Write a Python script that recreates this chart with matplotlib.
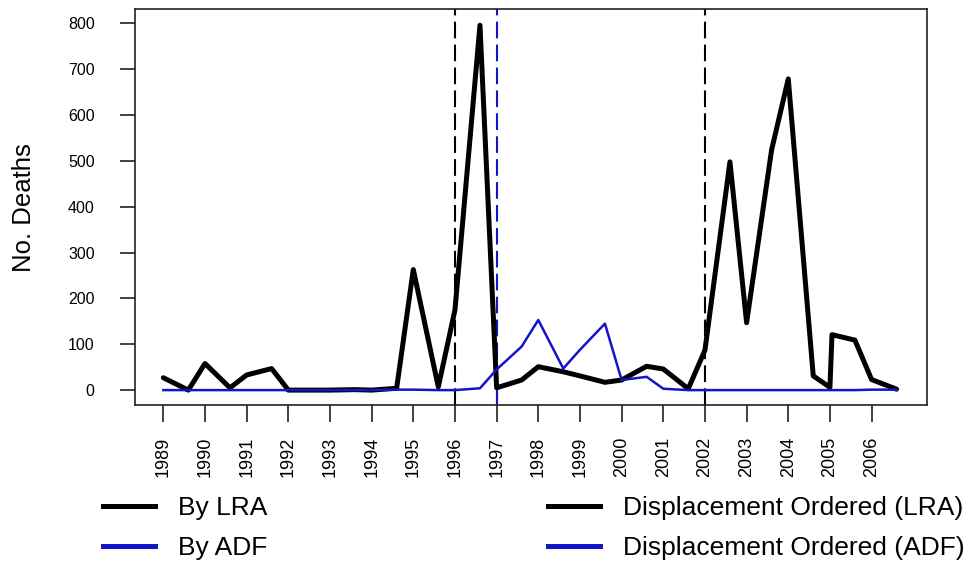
import matplotlib
matplotlib.use("Agg")
import matplotlib.pyplot as plt
from matplotlib.lines import Line2D

plt.rcParams["font.family"] = ["Liberation Sans", "DejaVu Sans"]

# Half-yearly death counts
t = [1989.0, 1989.6, 1990.0, 1990.6, 1991.0, 1991.6, 1992.0, 1992.6, 1993.0, 1993.6,
     1994.0, 1994.6, 1995.0, 1995.6, 1996.0, 1996.6, 1997.0, 1997.6, 1998.0, 1998.6,
     1999.0, 1999.6, 2000.0, 2000.6, 2001.0, 2001.6, 2002.0, 2002.6, 2003.0, 2003.6,
     2004.0, 2004.6, 2005.0, 2005.05, 2005.6, 2006.0, 2006.6]
deaths_lra = [27, 0, 58, 5, 33, 47, 0, 0, 0, 1,
              0, 4, 263, 7, 175, 796, 5, 22, 51, 40,
              31, 17, 22, 52, 46, 3, 87, 498, 147, 524,
              679, 31, 6, 121, 109, 23, 2]
deaths_adf = [0, 0, 0, 0, 0, 0, 0, 0, 0, 0,
              0, 1, 1, 0, 0, 4, 45, 95, 153, 47,
              88, 145, 22, 29, 3, 0, 0, 0, 0, 0,
              0, 0, 0, 0, 0, 1, 1]

# Displacement orders
displacement_lra = [1996, 2002]
displacement_adf = [1997]

year_ticks = list(range(1989, 2007))
death_ticks = list(range(0, 801, 100))

BLACK = "#000000"
BLUE = "#1414C8"

W, H = 969, 567
fig = plt.figure(figsize=(W / 100, H / 100), dpi=100)
ax = fig.add_axes([135 / W, 1 - 405 / H, (927 - 135) / W, (405 - 9) / H])

ax.plot(t, deaths_lra, color=BLACK, lw=3.6, solid_joinstyle="round",
        solid_capstyle="round", zorder=3)
ax.plot(t, deaths_adf, color=BLUE, lw=1.8, solid_joinstyle="round", zorder=3)

ylo, yhi = -32.5, 831.5
for x in displacement_lra:
    ax.axvline(x, color=BLACK, lw=1.5, dashes=(8, 3), zorder=2)
for x in displacement_adf:
    ax.axvline(x, color=BLUE, lw=1.5, dashes=(8, 3), zorder=2)
    ax.plot([x, x], [ylo, 50], color=BLUE, lw=1.5, zorder=2)

ax.set_xlim(1988.32, 2007.33)
ax.set_ylim(ylo, yhi)

ax.set_xticks(year_ticks)
ax.set_xticklabels([str(y) for y in year_ticks], rotation=90, fontsize=13)
ax.set_yticks(death_ticks)
ax.set_yticklabels([str(v) for v in death_ticks], fontsize=11.5)
ax.tick_params(axis="x", length=12, width=1.3, pad=11, color="#333333")
ax.tick_params(axis="y", length=11, width=1.3, pad=18, color="#333333")
for s in ax.spines.values():
    s.set_linewidth(1.2)
    s.set_color("#222222")

fig.text(24 / W, 1 - 208 / H, "No. Deaths", rotation=90, ha="center", va="center",
         fontsize=18.5)

left_handles = [Line2D([], [], color=BLACK, lw=3.6),
                Line2D([], [], color=BLUE, lw=3.6)]
right_handles = [Line2D([], [], color=BLACK, lw=3.6),
                 Line2D([], [], color=BLUE, lw=3.6)]
common = dict(frameon=False, fontsize=19, handlelength=1.97, handletextpad=0.87,
              labelspacing=0.62, borderpad=0, borderaxespad=0, loc="center left")
fig.legend(left_handles, ["By LRA", "By ADF"],
           bbox_to_anchor=(103 / W, 1 - 528 / H), **common)
fig.legend(right_handles, ["Displacement Ordered (LRA)", "Displacement Ordered (ADF)"],
           bbox_to_anchor=(548 / W, 1 - 528 / H), **common)

fig.savefig("out.png", dpi=100)
